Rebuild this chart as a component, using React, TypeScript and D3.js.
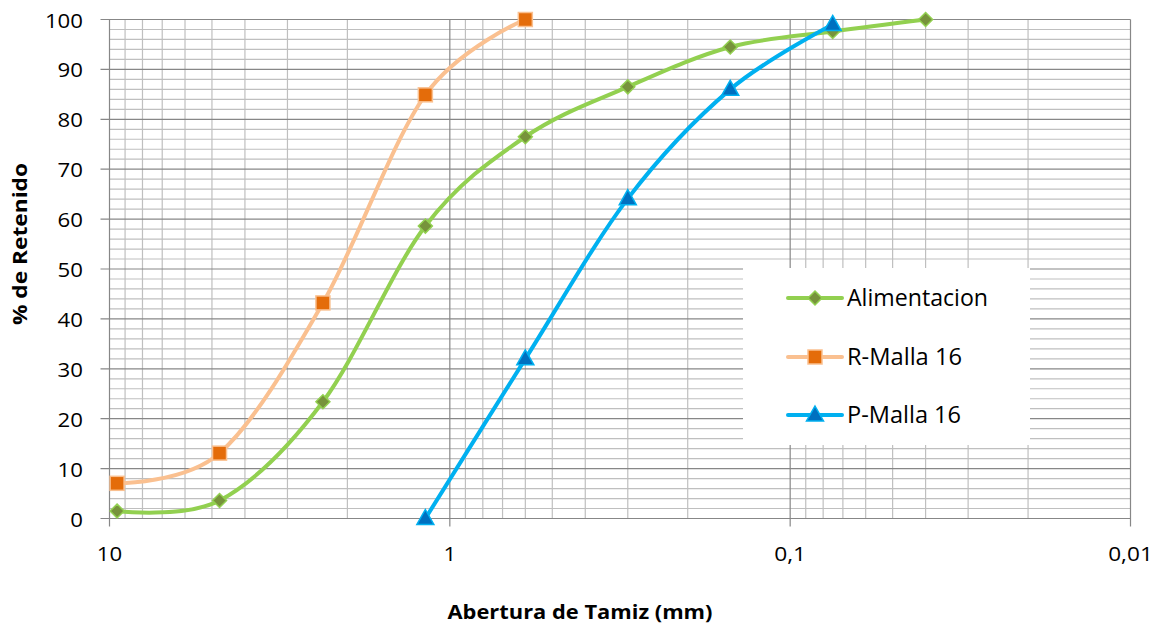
import React from "react";
import * as d3 from "d3";

const sieves = [9.5, 4.75, 2.36, 1.18, 0.6, 0.3, 0.15, 0.075, 0.04];
const alimentacion = [1.5, 3.6, 23.4, 58.6, 76.5, 86.5, 94.5, 97.6, 100];
const rMallaX = [9.5, 4.75, 2.36, 1.18, 0.6];
const rMalla = [7.05, 13.1, 43.2, 84.9, 100];
const pMallaX = [1.18, 0.6, 0.3, 0.15, 0.075];
const pMalla = [0, 32, 64.1, 86, 99];
const xTicks = [10, 1, 0.1, 0.01];
const xTickLabels = ["10", "1", "0,1", "0,01"];
const yTicks = [0, 10, 20, 30, 40, 50, 60, 70, 80, 90, 100];
const seriesNames = ["Alimentacion", "R-Malla 16", "P-Malla 16"];

const W = 1162;
const H = 630;
const L = 109.5, R = 1130.5, T = 19.5, B = 518.5;
const FONT = "'Open Sans', 'Liberation Sans', Arial, sans-serif";

const x = d3.scaleLog().domain([10, 0.01]).range([L, R]);
const y = d3.scaleLinear().domain([0, 100]).range([B, T]);

const line = d3
  .line<[number, number]>()
  .x((d) => x(d[0]))
  .y((d) => y(d[1]))
  .curve(d3.curveCardinal.tension(0));

// approximate rendered width of a tick label (digit ≈ 12.7px, comma ≈ 6.5px)
function tickWidth(s: string) {
  let w = 0;
  for (const c of s) w += c === "," ? 6.5 : 12.7;
  return w;
}

// text drawn from its start, stretched to a given length; anchor handled manually
function Txt(props: {
  x: number; y: number; anchor?: "start" | "middle" | "end"; size: number; weight?: string | number;
  rotate?: number; len: number; children: React.ReactNode;
}) {
  const { anchor = "start", size, weight = "normal", rotate = 0, len } = props;
  const off = anchor === "end" ? -len : anchor === "middle" ? -len / 2 : 0;
  return (
    <text
      transform={`translate(${props.x},${props.y}) rotate(${rotate})`}
      x={off}
      y={0}
      fontSize={size}
      fontWeight={weight}
      fontFamily={FONT}
      fill="#000"
      textLength={len}
      lengthAdjust="spacingAndGlyphs"
    >
      {props.children}
    </text>
  );
}

function Diamond({ cx, cy }: { cx: number; cy: number }) {
  const r = 7;
  return (
    <path
      d={`M${cx},${cy - r}L${cx + r},${cy}L${cx},${cy + r}L${cx - r},${cy}Z`}
      fill="#77933C"
      stroke="#92D050"
      strokeWidth={1.5}
    />
  );
}
function Square({ cx, cy }: { cx: number; cy: number }) {
  const s = 7;
  return (
    <rect x={cx - s} y={cy - s} width={2 * s} height={2 * s} fill="#E46C0A" stroke="#FAC090" strokeWidth={1.5} />
  );
}
function Tri({ cx, cy }: { cx: number; cy: number }) {
  const w = 8.5, h = 15;
  return (
    <path
      d={`M${cx},${cy - h * 0.6}L${cx + w},${cy + h * 0.4}L${cx - w},${cy + h * 0.4}Z`}
      fill="#0070C0"
      stroke="#00B0F0"
      strokeWidth={1.5}
    />
  );
}

export default function App() {
  const minorX: number[] = [];
  for (let e = -2; e < 1; e++) {
    for (let m = 2; m <= 9; m++) minorX.push(m * Math.pow(10, e));
  }
  const minorY: number[] = d3.range(0, 101, 2).filter((v) => v % 10 !== 0);

  const gA = sieves.map((s, i) => [s, alimentacion[i]] as [number, number]);
  const gR = rMallaX.map((s, i) => [s, rMalla[i]] as [number, number]);
  const gP = pMallaX.map((s, i) => [s, pMalla[i]] as [number, number]);

  const legendRows = [298, 357, 415];
  const legendLens = [141, 115, 114];
  const lx1 = 788, lx2 = 842, lm = 815, ltx = 847;

  return (
    <svg width={W} height={H} style={{ position: "absolute", left: 0, top: 0, background: "#fff" }}>
      <rect x={0} y={0} width={W} height={H} fill="#fff" />
      {/* minor grid */}
      {minorY.map((v) => (
        <line key={"my" + v} x1={L} x2={R} y1={y(v)} y2={y(v)} stroke="#BFBFBF" strokeWidth={1.2} />
      ))}
      {minorX.map((v) => (
        <line key={"mx" + v} x1={x(v)} x2={x(v)} y1={T} y2={B} stroke="#BFBFBF" strokeWidth={1.2} />
      ))}
      {/* major grid */}
      {yTicks.map((v) => (
        <line key={"Y" + v} x1={L - 9} x2={R} y1={y(v)} y2={y(v)} stroke="#878787" strokeWidth={1.2} />
      ))}
      {xTicks.map((v) => (
        <line key={"X" + v} x1={x(v)} x2={x(v)} y1={T} y2={B + 8} stroke="#878787" strokeWidth={1.2} />
      ))}
      {/* tick labels */}
      {yTicks.map((v) => (
        <Txt key={"yl" + v} x={83} y={y(v) + 8} anchor="end" size={19.5} len={tickWidth(String(v))}>
          {v}
        </Txt>
      ))}
      {xTicks.map((v, i) => (
        <Txt key={"xl" + v} x={x(v)} y={561} anchor="middle" size={19.5} len={tickWidth(xTickLabels[i])}>
          {xTickLabels[i]}
        </Txt>
      ))}
      {/* axis titles */}
      <Txt x={580} y={619} anchor="middle" size={19.5} weight="bold" len={265}>
        Abertura de Tamiz (mm)
      </Txt>
      <Txt x={27} y={244} anchor="middle" size={19.5} weight="bold" rotate={-90} len={162}>
        % de Retenido
      </Txt>
      {/* legend */}
      <rect x={743} y={268} width={287} height={177} fill="#fff" />
      <line x1={lx1} x2={lx2} y1={legendRows[0]} y2={legendRows[0]} stroke="#92D050" strokeWidth={4} strokeLinecap="round" />
      <Diamond cx={lm} cy={legendRows[0]} />
      <line x1={lx1} x2={lx2} y1={legendRows[1]} y2={legendRows[1]} stroke="#FAC090" strokeWidth={4} strokeLinecap="round" />
      <Square cx={lm} cy={legendRows[1]} />
      <line x1={lx1} x2={lx2} y1={legendRows[2]} y2={legendRows[2]} stroke="#00B0F0" strokeWidth={4} strokeLinecap="round" />
      <Tri cx={lm} cy={legendRows[2]} />
      {seriesNames.map((n, i) => (
        <Txt key={n} x={ltx} y={legendRows[i] + 8} size={23} len={legendLens[i]}>
          {n}
        </Txt>
      ))}
      {/* series */}
      <path d={line(gA) || ""} fill="none" stroke="#92D050" strokeWidth={4} strokeLinecap="round" />
      <path d={line(gR) || ""} fill="none" stroke="#FAC090" strokeWidth={4} strokeLinecap="round" />
      {gA.map((d, i) => <Diamond key={"a" + i} cx={x(d[0])} cy={y(d[1])} />)}
      {gR.map((d, i) => <Square key={"r" + i} cx={x(d[0])} cy={y(d[1])} />)}
      <path d={line(gP) || ""} fill="none" stroke="#00B0F0" strokeWidth={4} strokeLinecap="round" />
      {gP.map((d, i) => <Tri key={"p" + i} cx={x(d[0])} cy={y(d[1])} />)}
    </svg>
  );
}
